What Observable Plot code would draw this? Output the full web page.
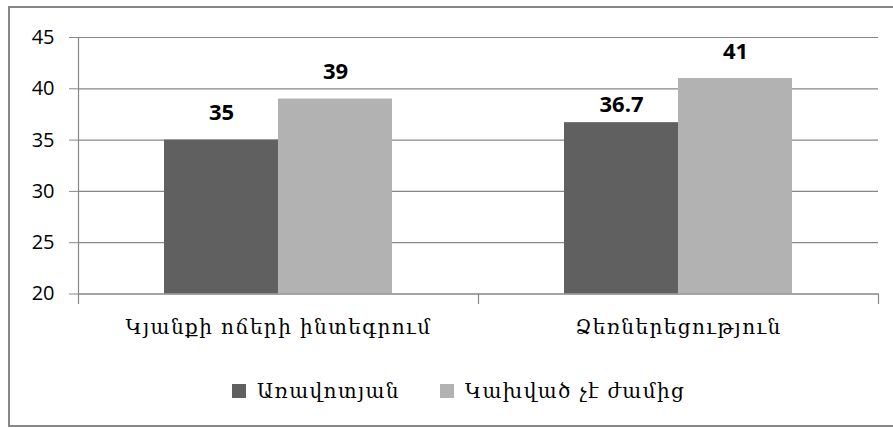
<!DOCTYPE html>
<html>
<head>
<meta charset="utf-8">
<script src="https://cdn.jsdelivr.net/npm/d3@7"></script>
<script src="https://cdn.jsdelivr.net/npm/@observablehq/plot@0.6"></script>
<style>
  html, body { margin: 0; padding: 0; background: #fff; overflow: hidden; }
  #wrap { position: relative; width: 893px; height: 428px; }
  #border { position: absolute; left: 8px; top: 6px; width: 900px; height: 421px;
            border: 2px solid #878787; border-right: none; box-sizing: border-box; pointer-events: none; }
  #chart { position: absolute; left: 0; top: 0; }
  #chart [aria-label="fx-axis tick label"] text { letter-spacing: 1.4px; }
  #legend { position: absolute; left: 232px; top: 379px; display: flex; align-items: center;
            font-family: "DejaVu Serif", serif; font-size: 20px; letter-spacing: 1.4px;
            color: #000; white-space: nowrap; }
  .sw { width: 14px; height: 14px; display: inline-block; margin-right: 11px; }
  .item { display: flex; align-items: center; margin-right: 40px; }
</style>
</head>
<body>
<div id="wrap">
  <div id="chart"></div>
  <div id="legend"></div>
  <div id="border"></div>
</div>
<script>
// Survey groups along the x axis
const categories = ["Կյանքի ոճերի ինտեգրում", "Ձեռներեցություն"];
// Series (legend entries)
const seriesNames = ["Առավոտյան", "Կախված չէ ժամից"];
const seriesColors = ["#606060", "#b2b2b2"];
// Values per group for each series
const morningValues = [35, 36.7];
const anytimeValues = [39, 41];
// Value axis
const yTicks = [20, 25, 30, 35, 40, 45];
const yDomain = [20, 45];

const rows = [];
categories.forEach((c, i) => {
  rows.push({category: c, series: seriesNames[0], value: morningValues[i], group: i});
  rows.push({category: c, series: seriesNames[1], value: anytimeValues[i], group: i});
});
// the first-series label of the second group sits closer to its bar
const nearLabel = d => d.group === 1 && d.series === seriesNames[0];

const gridColor = "#878787";
const numFont = "'Open Sans', sans-serif";
const armFont = "'DejaVu Serif', serif";
const plotH = 256.5;

const labelStyle = {fx: "category", x: "series", y: "value", text: d => String(d.value),
                    fontSize: 22, fontWeight: "bold", fontFamily: numFont, fill: "#000"};

const chart = Plot.plot({
  width: 893,
  height: 350,
  marginLeft: 78,
  marginRight: 15,
  marginTop: 37,
  marginBottom: 56.5,
  style: {background: "transparent", color: "#000", fontFamily: numFont},
  fx: {domain: categories, padding: 0, label: null},
  x: {domain: seriesNames, paddingInner: 0, paddingOuter: 0.752, axis: null},
  y: {domain: yDomain},
  color: {domain: seriesNames, range: seriesColors},
  marks: [
    Plot.ruleY(yTicks, {stroke: gridColor, strokeWidth: 1.2}),
    Plot.barY(rows, {fx: "category", x: "series", y1: yDomain[0], y2: "value", fill: "series"}),
    Plot.ruleY([yDomain[0]], {stroke: gridColor, strokeWidth: 1.2}),
    // value axis line and the category separators on the base line
    Plot.frame({anchor: "left", facetAnchor: "left", stroke: gridColor, strokeWidth: 1.2, insetBottom: -9.5}),
    Plot.frame({anchor: "left", facetAnchor: "right", stroke: gridColor, strokeWidth: 1.2, insetTop: plotH, insetBottom: -9.5}),
    Plot.frame({anchor: "right", facetAnchor: "right", stroke: gridColor, strokeWidth: 1.2, insetTop: plotH, insetBottom: -9.5}),
    Plot.axisY({ticks: yTicks, tickSize: 9, tickPadding: 15, stroke: gridColor, fontSize: 20,
                fontFamily: numFont, label: null}),
    Plot.axisFx({anchor: "bottom", tickSize: 0, tickPadding: 26, fontSize: 20,
                 fontFamily: armFont, label: null}),
    Plot.text(rows, {...labelStyle, filter: d => !nearLabel(d), dy: -27}),
    Plot.text(rows, {...labelStyle, filter: nearLabel, dy: -18})
  ]
});
document.getElementById("chart").appendChild(chart);

const legend = document.getElementById("legend");
seriesNames.forEach((name, i) => {
  const item = document.createElement("span");
  item.className = "item";
  const sw = document.createElement("span");
  sw.className = "sw";
  sw.style.background = seriesColors[i];
  item.appendChild(sw);
  item.appendChild(document.createTextNode(name));
  legend.appendChild(item);
});
</script>
</body>
</html>
